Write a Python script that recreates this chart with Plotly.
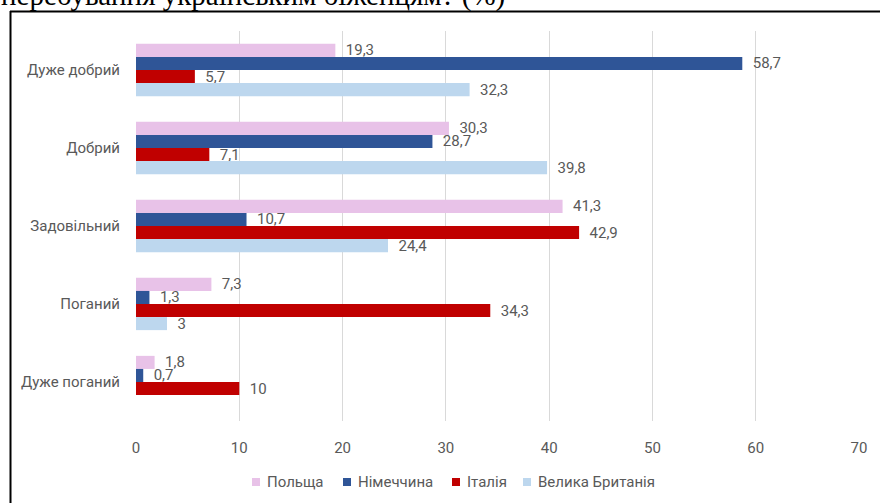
import plotly.graph_objects as go

categories = ["Дуже добрий", "Добрий", "Задовільний", "Поганий", "Дуже поганий"]
series_names = ["Польща", "Німеччина", "Італія", "Велика Британія"]
poland = [19.3, 30.3, 41.3, 7.3, 1.8]
germany = [58.7, 28.7, 10.7, 1.3, 0.7]
italy = [5.7, 7.1, 42.9, 34.3, 10]
uk = [32.3, 39.8, 24.4, 3, None]
colors = ["#E8C2E8", "#2F5597", "#C00000", "#BDD7EE"]
x_ticks = [0, 10, 20, 30, 40, 50, 60, 70]
title_text = "перебування українським біженцям? (%)"

FONT = "Roboto, Arial, sans-serif"
GRAY = "#595959"

def fmt(v):
    if v is None:
        return ""
    return "  " + f"{v:g}".replace(".", ",")

fig = go.Figure()
for name, vals, col in zip(series_names, [poland, germany, italy, uk], colors):
    fig.add_trace(go.Bar(
        name=name, y=categories, x=vals, orientation="h",
        marker=dict(color=col, line=dict(width=0)),
        text=[fmt(v) for v in vals], textposition="outside",
        textfont=dict(family=FONT, size=15, color=GRAY),
        constraintext="none", cliponaxis=False,
        hoverinfo="skip", showlegend=False,
    ))

L, R, T, B = 136, 21, 31, 82
W, H = 880, 503
pw, ph = W - L - R, H - T - B

def px_x(p):
    return (p - L) / pw

def px_y(p):
    return 1 + (T - p) / ph

# custom legend (square + label), pixel positions of each entry's square
legend_x = [252, 343, 452, 523]
legend_y = 482
shapes = [
    dict(type="line", xref="paper", yref="paper", x0=px_x(10.5), x1=px_x(10.5),
         y0=px_y(11), y1=px_y(520), line=dict(color="black", width=2)),
    dict(type="line", xref="paper", yref="paper", x0=px_x(10), x1=px_x(900),
         y0=px_y(11.5), y1=px_y(11.5), line=dict(color="black", width=2)),
]
annotations = [
    dict(text=title_text, xref="paper", yref="paper", x=px_x(-1), y=px_y(14),
         xanchor="left", yanchor="bottom", showarrow=False,
         font=dict(family="Liberation Serif, Times New Roman, serif", size=29, color="black")),
]
for name, col, lx in zip(series_names, colors, legend_x):
    shapes.append(dict(type="rect", xref="paper", yref="paper",
                       x0=px_x(lx), x1=px_x(lx + 8), y0=px_y(legend_y - 4), y1=px_y(legend_y + 4),
                       fillcolor=col, line=dict(width=0)))
    annotations.append(dict(text=name, xref="paper", yref="paper", x=px_x(lx + 13), y=px_y(legend_y),
                            xanchor="left", yanchor="middle", showarrow=False,
                            font=dict(family=FONT, size=15, color=GRAY)))

fig.update_layout(
    width=W, height=H,
    margin=dict(l=L, r=R, t=T, b=B, autoexpand=False),
    paper_bgcolor="white", plot_bgcolor="white",
    barmode="group", bargap=0.33, bargroupgap=0,
    font=dict(family=FONT, color=GRAY),
    xaxis=dict(range=[0, 70], tickvals=x_ticks, showgrid=True, gridcolor="#D9D9D9",
               gridwidth=1, zeroline=False, showline=False, automargin=False,
               tickfont=dict(family=FONT, size=15, color=GRAY),
               ticks="outside", ticklen=13, tickcolor="rgba(0,0,0,0)", fixedrange=True),
    yaxis=dict(autorange="reversed", showgrid=False, zeroline=False, showline=False, automargin=False,
               tickfont=dict(family=FONT, size=15, color=GRAY),
               ticks="outside", ticklen=12, tickcolor="rgba(0,0,0,0)", fixedrange=True),
    showlegend=False,
    shapes=shapes,
    annotations=annotations,
)

fig.write_html("out.html")
